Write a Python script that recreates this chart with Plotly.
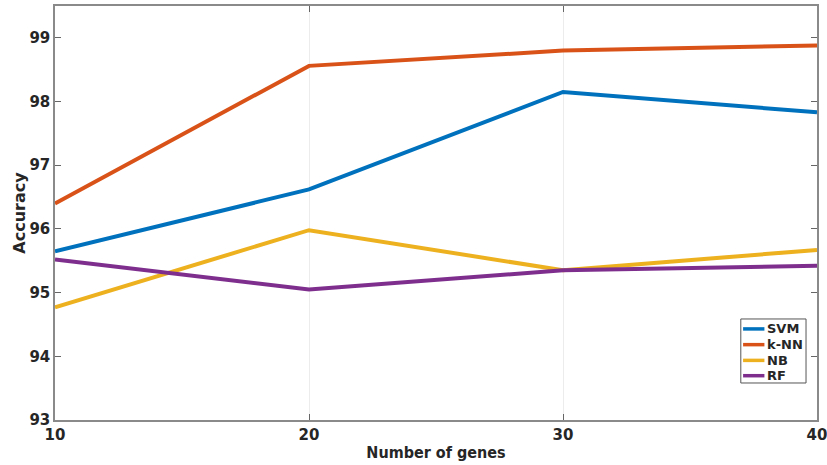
import plotly.graph_objects as go

genes = [10, 20, 30, 40]
svm = [95.65, 96.62, 98.15, 97.83]
knn = [96.40, 98.56, 98.80, 98.88]
nb = [94.77, 95.98, 95.35, 95.67]
rf = [95.52, 95.05, 95.35, 95.42]

series = [
    ("SVM", svm, "#0072BD"),
    ("k-NN", knn, "#D95319"),
    ("NB", nb, "#EDB120"),
    ("RF", rf, "#7E2F8E"),
]

fig = go.Figure()
for name, vals, color in series:
    fig.add_trace(go.Scatter(x=genes, y=vals, mode="lines", name=name,
                             line=dict(color=color, width=4), showlegend=False))

axis_common = dict(
    showline=True, linecolor="#8a8a8a", linewidth=1.5, mirror="ticks",
    ticks="inside", ticklen=6, tickcolor="#666666",
    tickfont=dict(family="DejaVu Sans", size=15, color="#262626", weight="bold"),
    zeroline=False, automargin=False, ticklabeloverflow="allow",
)

# compact boxed legend in the lower-right corner (paper coordinates)
leg_x0, leg_x1, leg_y0, leg_y1 = 0.900, 0.9856, 0.0894, 0.244
fig.add_shape(type="rect", xref="paper", yref="paper",
              x0=leg_x0, x1=leg_x1, y0=leg_y0, y1=leg_y1,
              line=dict(color="#555555", width=1), fillcolor="white", layer="above")
row_y = [0.220, 0.182, 0.144, 0.107]
for (name, _, color), yy in zip(series, row_y):
    fig.add_shape(type="line", xref="paper", yref="paper",
                  x0=0.903, x1=0.931, y0=yy, y1=yy,
                  line=dict(color=color, width=3.5), layer="above")
    fig.add_annotation(xref="paper", yref="paper", x=0.932, y=yy, text=name,
                       showarrow=False, xanchor="left", yanchor="middle",
                       font=dict(family="DejaVu Sans", size=13, color="#262626", weight="bold"))

fig.update_layout(
    width=827, height=465,
    margin=dict(l=55, r=10, t=6, b=45),
    paper_bgcolor="white", plot_bgcolor="white",
    font=dict(family="DejaVu Sans", color="#262626"),
    xaxis=dict(range=[10, 40], tickvals=genes, showgrid=True, gridcolor="#ececec",
               title=dict(text="Number of genes", standoff=4,
                          font=dict(family="DejaVu Sans Condensed, DejaVu Sans", size=16, weight="bold")),
               **axis_common),
    yaxis=dict(range=[93, 99.5], tickvals=[93, 94, 95, 96, 97, 98, 99], showgrid=False,
               title=dict(text="Accuracy", standoff=0,
                          font=dict(family="DejaVu Sans", size=16, weight="bold")),
               **axis_common),
    showlegend=False,
)

fig.write_html("out.html")
